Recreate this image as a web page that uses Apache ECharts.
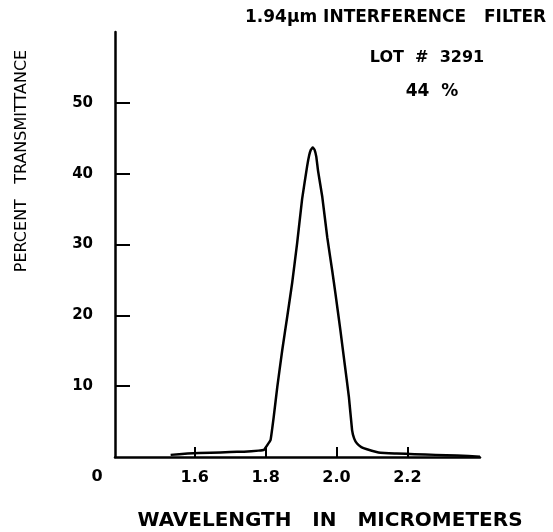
<!DOCTYPE html>
<html>
<head>
<meta charset="utf-8">
<script src="https://cdn.jsdelivr.net/npm/echarts@6/dist/echarts.min.js"></script>
<style>
html,body{margin:0;padding:0;background:#fff;}
#chart{width:553px;height:532px;}
</style>
</head>
<body>
<div id="chart"></div>
<script>
// Data
var wavelength = [1.532, 1.58, 1.645, 1.70, 1.739, 1.78, 1.795, 1.805, 1.814, 1.823, 1.833, 1.847, 1.861, 1.875, 1.889, 1.903, 1.917, 1.923, 1.928, 1.933, 1.938, 1.943, 1.948, 1.96, 1.974, 1.988, 1.997, 2.011, 2.023, 2.035, 2.044, 2.050, 2.058, 2.070, 2.086, 2.124, 2.17, 2.22, 2.28, 2.34, 2.405];
var transmittance = [0.3, 0.5, 0.6, 0.7, 0.75, 0.9, 1.0, 1.7, 2.4, 5.7, 9.9, 15.1, 19.8, 24.6, 30.2, 36.4, 41.0, 42.6, 43.4, 43.7, 43.4, 42.4, 40.4, 36.7, 31.0, 26.3, 23.1, 17.9, 13.2, 8.5, 3.8, 2.6, 1.9, 1.4, 1.1, 0.6, 0.5, 0.4, 0.3, 0.2, 0.05];
var xTicks = [1.6, 1.8, 2.0, 2.2];
var yTicks = [10, 20, 30, 40, 50];
var titleLines = ['1.94\u00b5m INTERFERENCE   FILTER', 'LOT  #  3291', '44  %'];
var xName = 'WAVELENGTH   IN   MICROMETERS';
var yName = 'PERCENT   TRANSMITTANCE';
var originLabel = '0';

var points = wavelength.map(function (w, i) { return [w, transmittance[i]]; });
var chart = echarts.init(document.getElementById('chart'));
var font = 'DejaVu Sans';
chart.setOption({
  animation: false,
  backgroundColor: '#fff',
  grid: { left: 115, top: 32, right: 73, bottom: 75 },
  xAxis: {
    type: 'value', min: 1.375, max: 2.405,
    splitLine: { show: false },
    axisLine: { lineStyle: { color: '#000', width: 2.5 } },
    axisTick: { inside: true, length: 10, customValues: xTicks, lineStyle: { color: '#000', width: 2 } },
    axisLabel: { customValues: xTicks, color: '#000', fontFamily: font, fontWeight: 'bold', fontSize: 16, margin: 13,
      formatter: function (v) { return v.toFixed(1); } }
  },
  yAxis: {
    type: 'value', min: 0, max: 60,
    splitLine: { show: false },
    axisLine: { lineStyle: { color: '#000', width: 2.5 } },
    axisTick: { inside: true, length: 15, customValues: yTicks, lineStyle: { color: '#000', width: 2 } },
    axisLabel: { customValues: yTicks, color: '#000', fontFamily: font, fontWeight: 'bold', fontSize: 15, margin: 22 }
  },
  graphic: [
    { type: 'text', x: 245, y: 18, style: { text: titleLines[0], fill: '#000', font: 'bold 17px "DejaVu Sans"', textVerticalAlign: 'middle', textAlign: 'left' } },
    { type: 'text', x: 427, y: 58, style: { text: titleLines[1], fill: '#000', font: 'bold 16px "DejaVu Sans"', textVerticalAlign: 'middle', textAlign: 'center' } },
    { type: 'text', x: 432, y: 92, style: { text: titleLines[2], fill: '#000', font: 'bold 17px "DejaVu Sans"', textVerticalAlign: 'middle', textAlign: 'center' } },
    { type: 'text', x: 330, y: 521, style: { text: xName, fill: '#000', font: 'bold 20px "DejaVu Sans"', textVerticalAlign: 'middle', textAlign: 'center' } },
    { type: 'text', x: 22, y: 161, rotation: Math.PI / 2, style: { text: yName, fill: '#000', font: '16px "DejaVu Sans"', textVerticalAlign: 'middle', textAlign: 'center' } },
    { type: 'text', x: 97, y: 477, style: { text: originLabel, fill: '#000', font: 'bold 16px "DejaVu Sans"', textVerticalAlign: 'middle', textAlign: 'center' } }
  ],
  series: [{
    type: 'line', data: points, showSymbol: false, smooth: 0.1,
    lineStyle: { color: '#000', width: 2.5, join: 'round' }
  }]
});
</script>
</body>
</html>
